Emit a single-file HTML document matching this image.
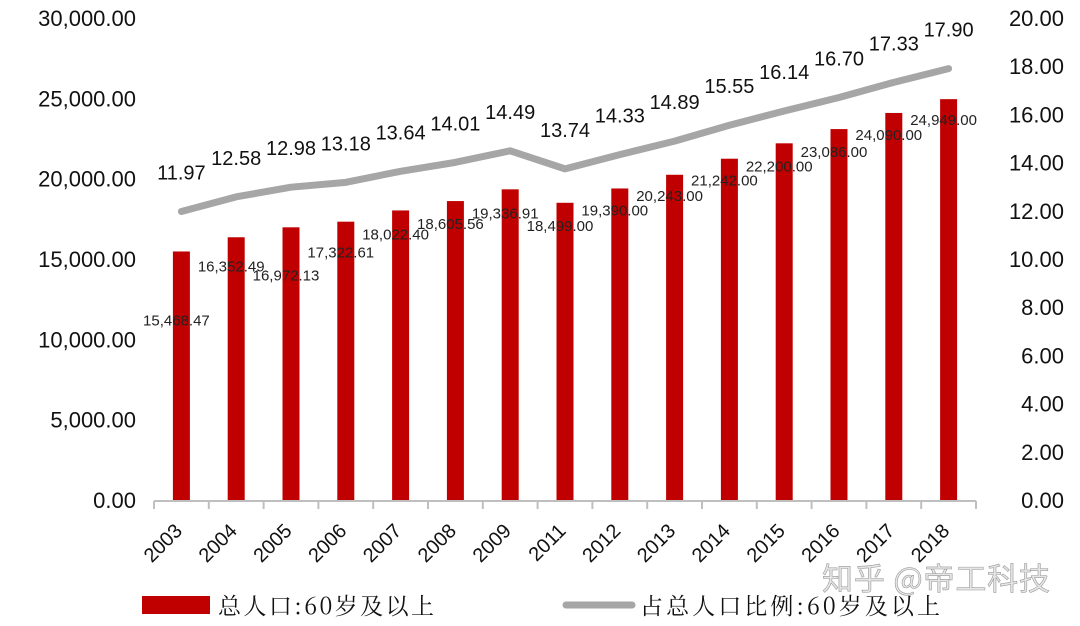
<!DOCTYPE html>
<html><head><meta charset="utf-8">
<style>
html,body{margin:0;padding:0;background:#fff;}
svg{display:block;font-family:"Liberation Sans","Noto Serif CJK SC",sans-serif;}
</style></head>
<body>
<svg id="chart" width="1080" height="626" viewBox="0 0 1080 626" xmlns="http://www.w3.org/2000/svg">
<g id="axes"></g>
<g id="bars"></g>
<g id="line"></g>
<g>
  <rect x="142" y="596" width="68" height="18" fill="#c00000"/>
  <text x="218" y="614" font-size="23" textLength="216" font-family="'Noto Serif CJK SC',serif" fill="#111">总人口:60岁及以上</text>
  <line x1="566" y1="605" x2="632" y2="605" stroke="#a6a6a6" stroke-width="7" stroke-linecap="round"/>
  <text x="640" y="614" font-size="23" textLength="300" font-family="'Noto Serif CJK SC',serif" fill="#111">占总人口比例:60岁及以上</text>
</g>
<text x="822" y="590" font-size="31" textLength="228" fill="#e6e6e6" stroke="#9a9a9a" stroke-width="0.6" font-family="'Noto Sans CJK SC',sans-serif">知乎 @帝工科技</text>
</svg>
<script>
const categories=["2003","2004","2005","2006","2007","2008","2009","2011","2012","2013","2014","2015","2016","2017","2018"];
const populationValues=[15468.47,16352.49,16972.13,17322.61,18022.40,18605.56,19336.91,18499.00,19390.00,20243.00,21242.00,22200.00,23086.00,24090.00,24949.00];
const populationLabels=["15,468.47","16,352.49","16,972.13","17,322.61","18,022.40","18,605.56","19,336.91","18,499.00","19,390.00","20,243.00","21,242.00","22,200.00","23,086.00","24,090.00","24,949.00"];
const ratioValues=[11.97,12.58,12.98,13.18,13.64,14.01,14.49,13.74,14.33,14.89,15.55,16.14,16.70,17.33,17.90];
const leftTicks=["0.00","5,000.00","10,000.00","15,000.00","20,000.00","25,000.00","30,000.00"];
const rightTicks=["0.00","2.00","4.00","6.00","8.00","10.00","12.00","14.00","16.00","18.00","20.00"];
const labelOffsets=[74,34,53,36,29,28,29,28,27,26,27,28,28,27,26];

const NS="http://www.w3.org/2000/svg";
const X0=154,X1=976,Y0=500,Y1=18,LMAX=30000,RMAX=20;
const step=(X1-X0)/categories.length;
const xc=i=>X0+step*(i+0.5);
const yl=v=>Y0-v/LMAX*(Y0-Y1);
const yr=v=>Y0-v/RMAX*(Y0-Y1);
function mk(tag,attrs,parent){const e=document.createElementNS(NS,tag);for(const k in attrs)e.setAttribute(k,attrs[k]);parent.appendChild(e);return e;}
const axes=document.getElementById('axes'),bars=document.getElementById('bars'),line=document.getElementById('line');

leftTicks.forEach((t,i)=>{const e=mk('text',{x:136,y:yl(i*5000)+8,'text-anchor':'end','font-size':22,fill:'#111'},axes);e.textContent=t;

});
rightTicks.forEach((t,i)=>{const e=mk('text',{x:1064,y:yr(i*2)+8,'text-anchor':'end','font-size':22,fill:'#111'},axes);e.textContent=t;

});
const ax=mk('line',{x1:X0,y1:Y0+1,x2:X1,y2:Y0+1,stroke:'#bfbfbf','stroke-width':2},axes);


for(let i=0;i<=categories.length;i++){const tk=mk('line',{x1:X0+step*i,y1:Y0+1,x2:X0+step*i,y2:Y0+9,stroke:'#bfbfbf','stroke-width':2},axes);

}
categories.forEach((c,i)=>{const x=xc(i)+2,y=Y0+32;const e=mk('text',{x:x,y:y,'text-anchor':'end','font-size':20,fill:'#111',transform:`rotate(-45 ${x} ${y})`},axes);e.textContent=c;

});

populationValues.forEach((v,i)=>{const w=17;const r=mk('rect',{x:xc(i)-w/2,y:yl(v),width:w,height:Y0-yl(v),fill:'#c00000'},bars);


const t=mk('text',{x:xc(i)-5,y:yl(v)+labelOffsets[i],'text-anchor':'middle','font-size':15,fill:'#222'},bars);t.textContent=populationLabels[i];

});

const pts=ratioValues.map((v,i)=>xc(i)+','+yr(v)).join(' ');
const pl=mk('polyline',{points:pts,fill:'none',stroke:'#a6a6a6','stroke-width':7,'stroke-linejoin':'round','stroke-linecap':'round'},line);


ratioValues.forEach((v,i)=>{const t=mk('text',{x:xc(i),y:yr(v)-32,'text-anchor':'middle','font-size':20,fill:'#111'},line);t.textContent=v.toFixed(2);

});
</script>
</body></html>
